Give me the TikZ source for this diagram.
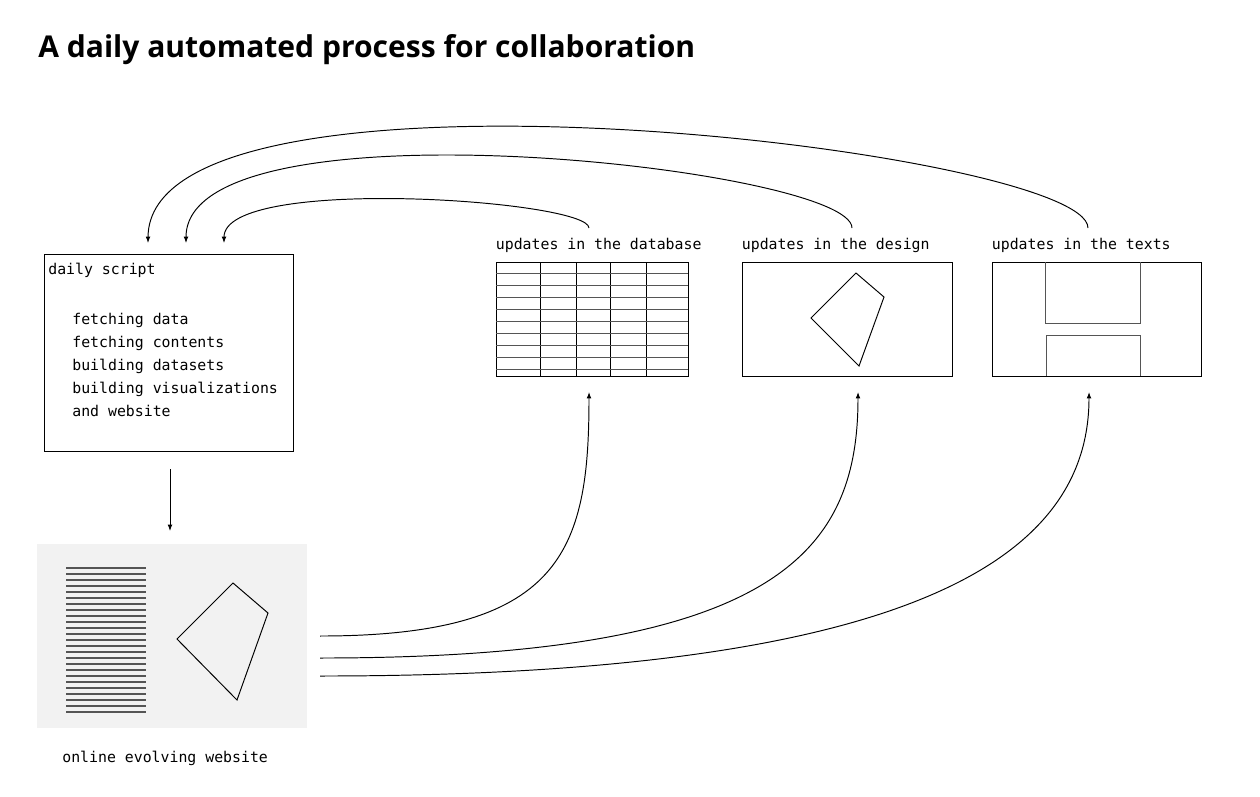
\documentclass[tikz,border=0pt]{standalone}
\usepackage{fontspec}
\setmainfont{Open Sans}
\newfontfamily\codefont{DejaVu Sans Mono}
\usetikzlibrary{arrows.meta,positioning}
\definecolor{webgray}{HTML}{F2F2F2}
\definecolor{stripe}{HTML}{555555}
\begin{document}
\begin{tikzpicture}[x=0.02cm,y=-0.02cm]
 \tikzset{box node/.style={rectangle, draw, line width=0.55pt,
 		inner sep=0pt}, }
 \tikzset{code node/.style={font=\codefont\fontsize{8.45}{13}\selectfont,
 		inner sep=0pt, anchor=base west}, }
 \tikzset{label node/.style={font=\codefont\fontsize{8.45}{13}\selectfont,
 		inner sep=0pt}, }
 \tikzset{thin line/.style={line width=0.55pt}, }
 \tikzset{linea/.style={-{Latex[length=3.6pt,width=2.7pt]}, line width=0.55pt},}
 \useasboundingbox (0,0) rectangle (1260,796);
 \node[font=\bfseries\fontsize{17.1}{20}\selectfont, anchor=base west,
 	inner sep=0pt] (title) at (38,57) {A daily automated process for collaboration};
 % boxes
 \node[box node, minimum width=5cm, minimum height=3.94cm] (script) at (169,352.5) {};
 \node[box node, minimum width=3.84cm, minimum height=2.28cm] (db) at (592,319) {};
 \node[box node, minimum width=4.2cm, minimum height=2.28cm] (design) at (847,319) {};
 \node[box node, minimum width=4.18cm, minimum height=2.28cm] (texts) at (1096.5,319) {};
 \node[rectangle, fill=webgray, minimum width=5.4cm, minimum height=3.68cm] (web) at (172,636) {};
 \node[label node] (dblabel) [above right=0.17cm and 0cm of db.north west] {updates in the database};
 \node[label node] (designlabel) [above right=0.17cm and 0cm of design.north west] {updates in the design};
 \node[label node] (textslabel) [above right=0.17cm and 0cm of texts.north west] {updates in the texts};
 \node[code node] (weblabel) at (62,762) {online evolving website};
 \node[code node] (head) at (48,274) {daily script};
 \foreach \s [count=\i] in {fetching data, fetching contents, building datasets,
 	building visualizations, and website}
 \node[code node] (step\i) at (72,301+23*\i) {\s};
 % database grid
 \foreach \c in {540,576,610,646}
 \draw[thin line] (\c,262) -- (\c,376);
 \foreach \r in {273,285,...,369}
 \draw[thin line, stripe] (496,\r) -- (688,\r);
 % design shape
 \draw[thin line] (856,273) -- (884,297) -- (859,366) -- (811,318) -- cycle;
 % text blocks
 \draw[thin line, stripe] (1045,262) -- (1045,323) -- (1140,323) -- (1140,262);
 \draw[thin line, stripe] (1046,376) -- (1046,335) -- (1140,335) -- (1140,376);
 % website
 \foreach \r in {568,574,...,712}
 \draw[stripe, line width=0.9pt] (66,\r) -- (146,\r);
 \draw[thin line] (233,583) -- (268,613) -- (237,700) -- (177,639) -- cycle;
 % connectors
 \coordinate (s1) at (148,243);
 \coordinate (s2) at (186,243);
 \coordinate (s3) at (224,243);
 \coordinate (u1) at (589,228);
 \coordinate (u2) at (852,228);
 \coordinate (u3) at (1088,228);
 \coordinate (w1) at (320,636);
 \coordinate (w2) at (320,658);
 \coordinate (w3) at (320,676);
 \coordinate (d1) at (589,392);
 \coordinate (d2) at (858,392);
 \coordinate (d3) at (1089,392);
 \coordinate (a) at (170,469);
 \coordinate (b) at (170,531);
 \draw[linea] (a) -- (b);
 \draw[linea] (u1) .. controls (589,200) and (224,175) .. (s3);
 \draw[linea] (u2) .. controls (852,168) and (186,95) .. (s2);
 \draw[linea] (u3) .. controls (1088,150) and (149,40) .. (s1);
 \draw[linea] (w1) .. controls (562,636) and (589,551) .. (d1);
 \draw[linea] (w2) .. controls (777,658) and (858,552) .. (d2);
 \draw[linea] (w3) .. controls (935,676) and (1089,548) .. (d3);
 % 
\end{tikzpicture}
\end{document}
